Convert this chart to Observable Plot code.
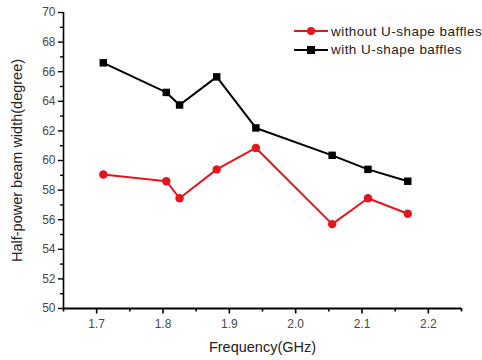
<!DOCTYPE html>
<html>
<head>
<meta charset="utf-8">
<script src="https://cdn.jsdelivr.net/npm/d3@7"></script>
<script src="https://cdn.jsdelivr.net/npm/@observablehq/plot@0.6"></script>
<style>
  html, body { margin: 0; padding: 0; background: #fff; }
  #wrap { position: relative; width: 482px; height: 360px; font-family: "Liberation Sans", Arial, sans-serif; }
  #legend { position: absolute; left: 294px; top: 22px; font-size: 13.5px; color: #222; letter-spacing: 0.45px; white-space: nowrap; }
  #legend .row { display: flex; align-items: center; height: 18.5px; }
  #legend svg { margin-right: 3px; }
</style>
</head>
<body>
<div id="wrap"><div id="legend"></div></div>
<script>
// Frequency samples (GHz)
const frequency = [1.71, 1.805, 1.825, 1.881, 1.94, 2.055, 2.109, 2.169];
// Half-power beam width (degree) per configuration
const withoutBaffles = [59.05, 58.6, 57.45, 59.4, 60.85, 55.7, 57.45, 56.4];
const withBaffles = [66.6, 64.6, 63.75, 65.65, 62.2, 60.35, 59.4, 58.6];

const xMajor = [1.7, 1.8, 1.9, 2.0, 2.1, 2.2];
const xMinor = [1.65, 1.75, 1.85, 1.95, 2.05, 2.15, 2.25];
const yMajor = [50, 52, 54, 56, 58, 60, 62, 64, 66, 68, 70];
const yMinor = [51, 53, 55, 57, 59, 61, 63, 65, 67, 69];

const series = [
  {name: "without U-shape baffles", values: withoutBaffles, color: "#e8141b", symbol: "circle", r: 4.2},
  {name: "with U-shape baffles", values: withBaffles, color: "#000000", symbol: "square", r: 4.2}
];

const rows = series.flatMap(s => frequency.map((f, i) => ({series: s.name, f, v: s.values[i]})));

const tickStyle = {fontSize: 12, fill: "#4a4a4a"};

const chart = Plot.plot({
  width: 482,
  height: 360,
  marginLeft: 63,
  marginRight: 21,
  marginTop: 12,
  marginBottom: 52,
  style: {fontFamily: "Liberation Sans, Arial, sans-serif", background: "white"},
  x: {domain: [1.65, 2.25]},
  y: {domain: [50, 70]},
  marks: [
    Plot.axisX({ticks: xMinor, tickSize: 3.5, tickFormat: () => "", stroke: "#000", strokeWidth: 1.6, label: null}),
    Plot.axisX({ticks: xMajor, tickSize: 5.5, tickPadding: 5, tickFormat: d3.format(".1f"), stroke: "#000", strokeWidth: 1.6, ...tickStyle,
      label: "Frequency(GHz)", labelAnchor: "center", labelArrow: "none", labelOffset: 43}),
    Plot.axisY({ticks: yMinor, tickSize: 3, tickFormat: () => "", stroke: "#000", strokeWidth: 1.4, label: null}),
    Plot.axisY({ticks: yMajor, tickSize: 5, tickPadding: 3, stroke: "#000", strokeWidth: 1.4, ...tickStyle,
      label: "Half-power beam width(degree)", labelAnchor: "center", labelArrow: "none", labelOffset: 52}),
    Plot.ruleX([1.65], {stroke: "#000", strokeWidth: 1.6}),
    Plot.ruleY([50], {stroke: "#000", strokeWidth: 1.8}),
    ...series.map(s => Plot.line(rows.filter(d => d.series === s.name), {x: "f", y: "v", stroke: s.color, strokeWidth: 2})),
    ...series.map(s => Plot.dot(rows.filter(d => d.series === s.name), {x: "f", y: "v", fill: s.color, stroke: null, symbol: s.symbol, r: s.r}))
  ]
});

// axis title styling
chart.querySelectorAll("[aria-label='x-axis label'] text, [aria-label='y-axis label'] text").forEach(t => {
  t.setAttribute("font-size", "14.5");
  t.setAttribute("fill", "#222");
  t.style.fontSize = "14.5px";
});

const wrap = document.getElementById("wrap");
wrap.insertBefore(chart, wrap.firstChild);

// legend
const legend = document.getElementById("legend");
for (const s of series) {
  const row = document.createElement("div");
  row.className = "row";
  const sym = s.symbol === "circle"
    ? `<circle cx="17" cy="6" r="4" fill="${s.color}"/>`
    : `<rect x="13" y="2" width="8" height="8" fill="${s.color}"/>`;
  row.innerHTML = `<svg width="34" height="12"><line x1="0" x2="34" y1="6" y2="6" stroke="${s.color}" stroke-width="2"/>${sym}</svg><span>${s.name}</span>`;
  legend.appendChild(row);
}
chart.style.position = "absolute";
chart.style.left = "0";
chart.style.top = "0";
</script>
</body>
</html>
